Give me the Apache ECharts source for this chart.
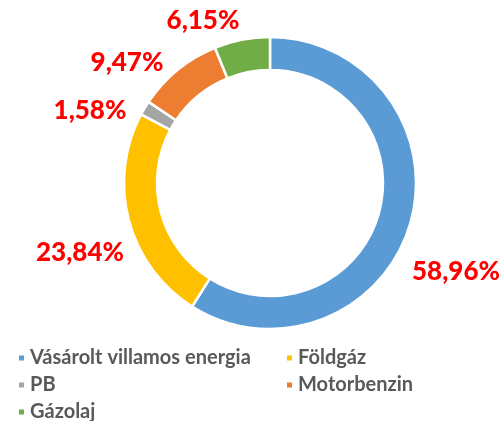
<!DOCTYPE html>
<html>
<head>
<meta charset="utf-8">
<script src="https://cdn.jsdelivr.net/npm/echarts@6/dist/echarts.min.js"></script>
<style>
  html, body { margin: 0; padding: 0; background: #fff; }
  #chart { width: 503px; height: 421px; }
</style>
</head>
<body>
<div id="chart"></div>
<script>
// adatok
const categories = ['Vásárolt villamos energia', 'Földgáz', 'PB', 'Motorbenzin', 'Gázolaj']
const values = [58.96, 23.84, 1.58, 9.47, 6.15]
const colors = ['#5B9BD5', '#FFC000', '#A5A5A5', '#ED7D31', '#70AD47']

// címkék helye (kézzel igazítva, mint az Excelben)
const labelPos = [[456, 272], [80, 253], [90, 111], [127, 63], [203, 21]]

const chart = echarts.init(document.getElementById('chart'))

const legendText = {
  color: '#595959',
  fontSize: 20,
  lineHeight: 20,
  fontWeight: 'bold',
  fontFamily: 'Lato'
}

const legendBase = {
  orient: 'vertical',
  top: 343,
  height: 120,
  itemWidth: 7,
  itemHeight: 7,
  itemGap: 7,
  icon: 'rect',
  selectedMode: false,
  textStyle: legendText
}

const option = {
  backgroundColor: '#fff',
  color: colors,
  legend: [
    { ...legendBase, left: 12, data: [categories[0], categories[2], categories[4]] },
    { ...legendBase, left: 280, data: [categories[1], categories[3]] }
  ],
  series: [
    {
      type: 'pie',
      center: [270, 183],
      radius: [113, 146],
      startAngle: 90,
      clockwise: true,
      avoidLabelOverlap: false,
      itemStyle: {
        borderColor: '#fff',
        borderWidth: 2.5
      },
      label: {
        show: true,
        position: 'outside',
        formatter: (p) => p.value.toFixed(2).replace('.', ',') + '%',
        color: '#FF0000',
        fontSize: 26,
        fontWeight: 900,
        fontFamily: 'Lato'
      },
      labelLine: { show: false },
      labelLayout: (params) => ({
        x: labelPos[params.dataIndex][0],
        y: labelPos[params.dataIndex][1],
        align: 'center',
        verticalAlign: 'middle'
      }),
      emphasis: { disabled: true },
      data: categories.map((name, i) => ({ name, value: values[i] }))
    }
  ]
}

chart.setOption(option)
</script>
</body>
</html>
